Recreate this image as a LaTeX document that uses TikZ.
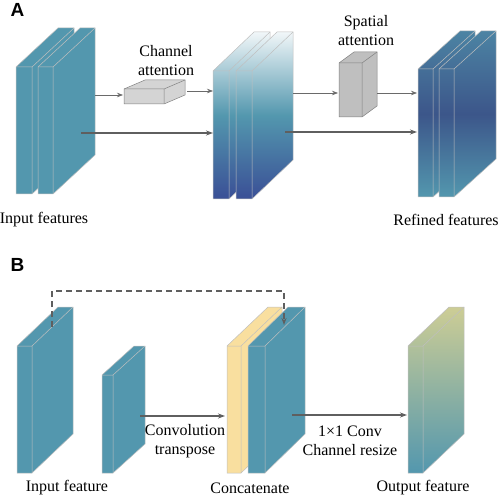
\documentclass[tikz,border=0pt]{standalone}
\usepackage{fontspec}
\setmainfont{Liberation Serif}
\newfontfamily\panelfont{Liberation Sans}
\usetikzlibrary{arrows.meta}
\definecolor{featteal}{HTML}{5397AE}
\definecolor{featyellow}{HTML}{F9DF9F}
\definecolor{featdark}{HTML}{3C568A}
\definecolor{featnavy}{HTML}{3A4F96}
\definecolor{featolive}{HTML}{CDCD95}
\definecolor{boxgray}{HTML}{D4D4D4}
\definecolor{arrgray}{HTML}{6A6A6A}
\newcommand{\featslab}[8]{%
	\path[#7] (#1,#2) -- ++(#5,-#6) -- ++(#3,0) -- ++(0,#4) -- ++(-#5,#6) -- ++(-#3,0) -- cycle;
	\draw[#8] (#1,#2) -- ++(#3,0) -- ++(0,#4) (#1+#3,#2) -- ++(#5,-#6);}

\begin{document}
\begin{tikzpicture}[x=1pt, y=-1pt,
	lbl/.style={font=\fontsize{16}{19}\selectfont, align=center, inner sep=0pt},
	panel/.style={font=\panelfont\bfseries\fontsize{19}{19}\selectfont, inner sep=0pt},
	arr/.style={-{Stealth[length=6pt, width=4.5pt]}, color=arrgray, line width=.7pt},
	arrthick/.style={-{Stealth[length=7pt, width=5pt]}, color=arrgray!90!black, line width=1.1pt},
	slabedge/.style={draw=gray!50, line width=.5pt},
	boxedge/.style={draw=gray, line width=.5pt},
	teal/.style={fill=featteal, slabedge}]
	\useasboundingbox (0,0) rectangle (498,497);
	\node[panel] (panA) at (17.5,10) {A};
	\node[panel] (panB) at (17.5,265) {B};
	\featslab{16}{67}{16}{127}{42}{39}{teal}{slabedge}
	\featslab{38}{67}{15}{127}{42}{39}{teal}{slabedge}
	\featslab{124}{89}{40}{15}{21}{9}{fill=boxgray, boxedge}{boxedge}
	\featslab{213}{71}{16}{128}{41}{39}{top color=white!92!featteal, bottom color=featnavy, middle color=featteal, slabedge}{slabedge}
	\featslab{236}{71}{16}{128}{41}{39}{top color=white!92!featteal, bottom color=featnavy, middle color=featteal, slabedge}{slabedge}
	\featslab{339}{63}{23}{54}{15}{11}{fill=boxgray!90!black, boxedge}{boxedge}
	\featslab{418}{69}{15}{128}{42}{38}{top color=featteal!70!featdark, bottom color=featteal, middle color=featdark, slabedge}{slabedge}
	\featslab{439}{69}{15}{128}{42}{38}{top color=featteal!70!featdark, bottom color=featteal, middle color=featdark, slabedge}{slabedge}
	\featslab{17}{346}{15}{127}{41}{39}{teal}{slabedge}
	\featslab{102}{375}{11}{98}{32}{29}{teal}{slabedge}
	\featslab{227}{346}{14}{127}{41}{39}{fill=featyellow, slabedge}{slabedge}
	\featslab{248}{346}{17}{127}{40}{39}{teal}{slabedge}
	\featslab{408}{346}{15}{127}{41}{39}{top color=featolive, bottom color=featteal, slabedge}{slabedge}
	\node[lbl] (chanlbl) at (166,61) {Channel\\attention};
	\node[lbl] (spatlbl) at (366,31) {Spatial\\attention};
	\node[lbl] (inlbl) at (44,220) {Input features};
	\node[lbl] (reflbl) at (446,220) {Refined features};
	\node[lbl] (convlbl) at (185,441) {Convolution\\transpose};
	\node[lbl] (resizelbl) at (350,441) {1×1 Conv\\Channel resize};
	\node[lbl] (inBlbl) at (67,488) {Input feature};
	\node[lbl] (catlbl) at (250,488) {Concatenate};
	\node[lbl] (outlbl) at (423,488) {Output feature};
	\path (95,95) coordinate (inA-out) (123,95) coordinate (chan-in)
		(187,91) coordinate (chan-out) (213,91) coordinate (mid-in)
		(81,133) coordinate (inA-skip) (213,133) coordinate (mid-skip)
		(293,93) coordinate (mid-out) (338,93) coordinate (spat-in)
		(377,93) coordinate (spat-out) (417,93) coordinate (ref-in)
		(285,132) coordinate (mid-skipout) (417,132) coordinate (ref-skip)
		(140,416) coordinate (small-out) (225,416) coordinate (cat-in)
		(292,415) coordinate (cat-out) (407,415) coordinate (out-in)
		(52,327) coordinate (inB-top) (284,291) coordinate (skip-corner) (284,325) coordinate (cat-top);
	\path[arr]
		(inA-out) edge (chan-in)
		(chan-out) edge (mid-in)
		(mid-out) edge (spat-in)
		(spat-out) edge (ref-in);
	\path[arrthick]
		(inA-skip) edge (mid-skip)
		(mid-skipout) edge (ref-skip)
		(small-out) edge (cat-in)
		(cat-out) edge (out-in);
	\draw[arrthick, dash pattern=on 6pt off 4pt] (inB-top) |- (skip-corner) -- (cat-top);
\end{tikzpicture}
\end{document}
